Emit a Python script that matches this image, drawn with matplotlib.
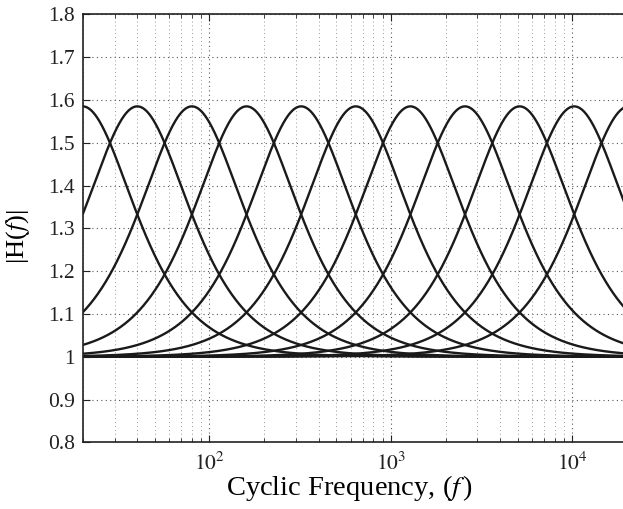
import numpy as np
import matplotlib
matplotlib.use("Agg")
import matplotlib.pyplot as plt
from matplotlib.ticker import FuncFormatter, LogLocator, NullFormatter

# ---- data (filter bank parameters) ----
center_freqs = [20, 40, 80, 160, 320, 640, 1280, 2560, 5120, 10240, 20480]
peak_gain_db = 4.0
q_factor = 0.65
x_limits = [20, 20000]
y_ticks = [0.8, 0.9, 1.0, 1.1, 1.2, 1.3, 1.4, 1.5, 1.6, 1.7, 1.8]
x_label = "Cyclic Frequency, ($f\\,$)"
y_label = "|H($f$)|"

plt.rcParams['font.family'] = ['Liberation Serif', 'DejaVu Serif']
plt.rcParams['mathtext.fontset'] = 'stix'

fig = plt.figure(figsize=(6.23, 5.09), dpi=100)
ax = fig.add_axes([0.1327, 0.131, 0.8737, 0.8409])

f = np.logspace(np.log10(x_limits[0]), np.log10(x_limits[1]), 2000)
G = 10 ** (peak_gain_db / 20)
for fc in center_freqs:
    x = f / fc
    u2 = ((1 - x ** 2) / x) ** 2 * q_factor ** 2
    mag = np.sqrt((u2 + G ** 2) / (u2 + 1))
    ax.plot(f, mag, color='#1a1a1a', lw=1.7, solid_capstyle='butt')

ax.set_xscale('log')
ax.set_xlim(*x_limits)
ax.set_ylim(y_ticks[0], y_ticks[-1])
ax.set_yticks(y_ticks)
ax.yaxis.set_major_formatter(FuncFormatter(lambda v, p: f"{v:g}"))
ax.xaxis.set_major_locator(LogLocator(base=10))
ax.xaxis.set_minor_locator(LogLocator(base=10, subs=np.arange(2, 10)))
ax.xaxis.set_minor_formatter(NullFormatter())
ax.xaxis.set_major_formatter(FuncFormatter(lambda v, p: "$10^{%d}$" % int(round(np.log10(v)))))

ax.grid(True, which='major', axis='both', linestyle=(0, (1, 3)), color='#555555', lw=0.8)
ax.grid(True, which='minor', axis='x', linestyle=(0, (1, 3)), color='#999999', lw=0.7)

ax.tick_params(which='both', direction='in', top=True, right=False, labelsize=15.5, colors='#222222')
ax.tick_params(axis='y', which='major', pad=5.5)
ax.tick_params(axis='x', which='major', pad=7.5)
ax.tick_params(which='major', length=5)
ax.tick_params(which='minor', length=3)
for s in ax.spines.values():
    s.set_linewidth(1.2)
    s.set_color('#222222')

ax.set_xlabel(x_label, fontsize=20.5)
ax.set_ylabel(y_label, fontsize=19)
ax.xaxis.set_label_coords(0.49, -0.072)
ax.yaxis.set_label_coords(-0.093, 0.48)

fig.savefig("out.png", dpi=100)
